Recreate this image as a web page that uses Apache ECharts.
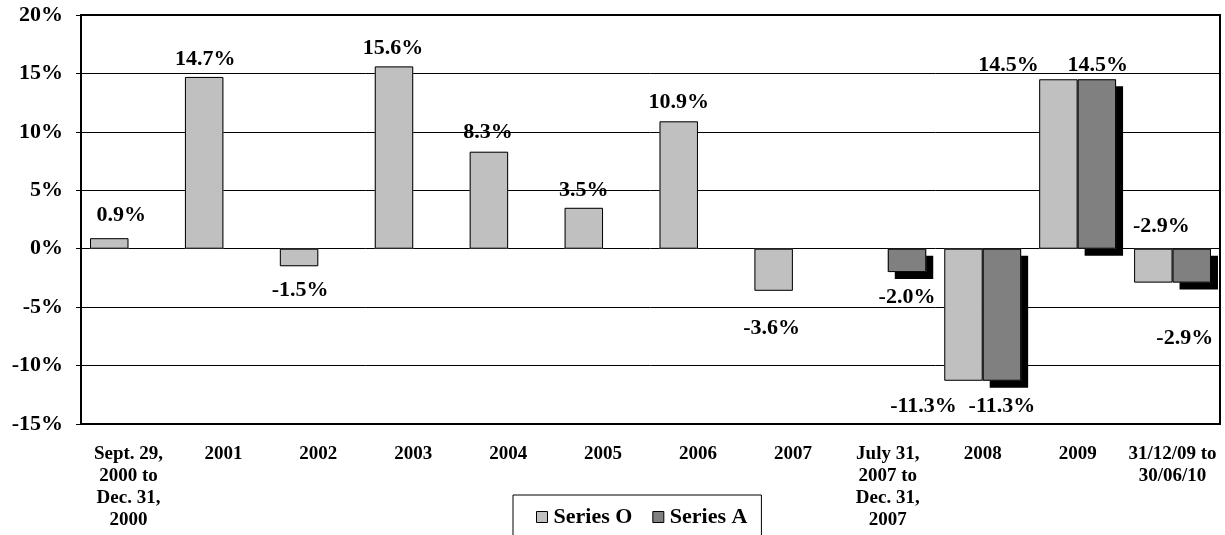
<!DOCTYPE html>
<html>
<head>
<meta charset="utf-8">
<script src="https://cdn.jsdelivr.net/npm/echarts@6/dist/echarts.min.js"></script>
<style>
  html, body { margin: 0; padding: 0; background: #fff; }
  #chart { width: 1225px; height: 535px; }
</style>
</head>
<body>
<div id="chart"></div>
<script>
const periods = ['Sept. 29,\n2000 to\nDec. 31,\n2000', '2001', '2002', '2003', '2004', '2005', '2006', '2007',
  'July 31,\n2007 to\nDec. 31,\n2007', '2008', '2009', '31/12/09 to\n30/06/10'];

const seriesO = [0.9, 14.7, -1.5, 15.6, 8.3, 3.5, 10.9, -3.6, null, -11.3, 14.5, -2.9];
const seriesA = [null, null, null, null, null, null, null, null, -2.0, -11.3, 14.5, -2.9];

// label nudges [dx, dy], the original has hand-moved labels
const nudgeO = [[12, -7], [1, -2], [1, 8], [-1, -2], [-1, -3], [0, -2], [0, -3], [-2, 22], [0, 0], [-40, 10], [-50, 2], [8, -72]];
const nudgeA = [[0, 0], [0, 0], [0, 0], [0, 0], [0, 0], [0, 0], [0, 0], [0, 0], [0, 9], [0, 10], [1, 2], [-7, 40]];

const font = "'Liberation Serif', 'Times New Roman', serif";

function withLabels(values, nudges) {
  return values.map(function (v, i) {
    if (v === null) return null;
    return { value: v, label: { offset: nudges[i] } };
  });
}

const barLabel = {
  show: true,
  position: 'outside',
  formatter: function (p) { return p.value.toFixed(1) + '%'; },
  fontFamily: font,
  fontWeight: 'bold',
  fontSize: 22,
  color: '#000'
};

const myChart = echarts.init(document.getElementById('chart'));

let options = {
  animation: false,
  backgroundColor: '#fff',
  grid: {
    left: 81,
    right: 5,
    top: 15,
    bottom: 111,
    show: true,
    borderColor: '#000',
    borderWidth: 2
  },
  legend: {
    data: ['Series O', 'Series A'],
    left: 513,
    top: 495,
    icon: 'rect',
    itemWidth: 11,
    itemHeight: 11,
    itemGap: 20,
    padding: [11, 14, 30, 23],
    borderColor: '#000',
    borderWidth: 1,
    backgroundColor: '#fff',
    itemStyle: { borderColor: '#000', borderWidth: 1, shadowBlur: 0, shadowOffsetX: 0, shadowOffsetY: 0, shadowColor: 'transparent' },
    textStyle: { fontFamily: font, fontWeight: 'bold', fontSize: 22, color: '#000', padding: [0, 0, 0, 1] }
  },
  xAxis: [
    {
      type: 'category',
      data: periods,
      axisLine: { onZero: false, lineStyle: { color: '#000', width: 2 } },
      axisTick: { show: false },
      axisLabel: {
        interval: 0,
        margin: 19,
        fontFamily: font,
        fontWeight: 'bold',
        fontSize: 19,
        lineHeight: 22,
        color: '#000',
        align: 'center'
      }
    },
    {
      // twin axis, only used to lay the bar outlines over the shadowed fills
      type: 'category',
      data: periods,
      show: false
    }
  ],
  yAxis: {
    type: 'value',
    min: -15,
    max: 20,
    interval: 5,
    axisLine: { show: true, lineStyle: { color: '#000', width: 2 } },
    axisTick: { show: true, length: 5, lineStyle: { color: '#000' } },
    splitLine: { lineStyle: { color: '#000', width: 1 } },
    axisLabel: {
      formatter: '{value}%',
      margin: 18,
      fontFamily: font,
      fontWeight: 'bold',
      fontSize: 22,
      color: '#000'
    }
  },
  series: [
    {
      name: 'Series O',
      type: 'bar',
      barGap: 0,
      barCategoryGap: '19%',
      data: withLabels(seriesO, nudgeO),
      itemStyle: { color: '#c0c0c0' },
      label: barLabel
    },
    {
      name: 'Series A',
      type: 'bar',
      barGap: 0,
      barCategoryGap: '19%',
      data: withLabels(seriesA, nudgeA),
      itemStyle: {
        color: '#808080',
        shadowColor: '#000',
        shadowBlur: 0,
        shadowOffsetX: 7,
        shadowOffsetY: 7
      },
      label: barLabel
    },
    {
      name: 'outline O',
      type: 'bar',
      xAxisIndex: 1,
      barGap: 0,
      barCategoryGap: '19%',
      silent: true,
      data: seriesO,
      itemStyle: { color: 'rgba(0,0,0,0)', borderColor: '#000', borderWidth: 1 }
    },
    {
      name: 'outline A',
      type: 'bar',
      xAxisIndex: 1,
      barGap: 0,
      barCategoryGap: '19%',
      silent: true,
      data: seriesA,
      itemStyle: { color: 'rgba(0,0,0,0)', borderColor: '#000', borderWidth: 1 }
    }
  ]
};

myChart.setOption(options);

window.addEventListener('resize', () => {
  myChart.resize();
});
</script>
</body>
</html>
